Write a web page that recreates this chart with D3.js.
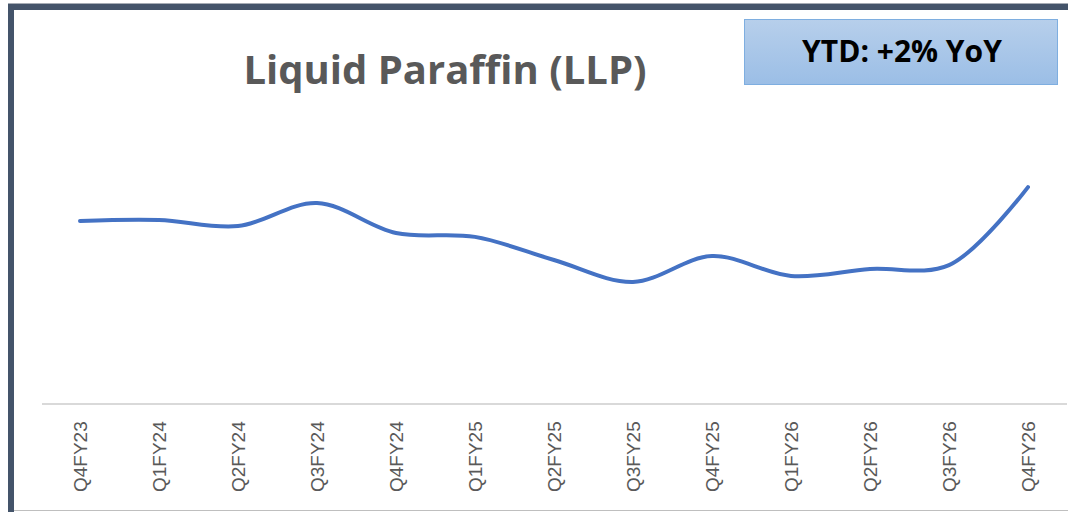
<!DOCTYPE html>
<html>
<head>
<meta charset="utf-8">
<script src="https://cdn.jsdelivr.net/npm/d3@7"></script>
<style>
  html, body { margin: 0; padding: 0; background: #fff; }
  #chart { width: 1068px; height: 512px; }
</style>
</head>
<body>
<div id="chart"></div>
<script>
/* Liquid Paraffin (LLP) — quarterly trend, smoothed line, no y axis */
(function () {
  "use strict";

  var quarters = ["Q4FY23", "Q1FY24", "Q2FY24", "Q3FY24", "Q4FY24", "Q1FY25", "Q2FY25",
    "Q3FY25", "Q4FY25", "Q1FY26", "Q2FY26", "Q3FY26", "Q4FY26"];
  // index values (y axis is hidden)
  var llpValues = [61, 61.3, 59.3, 67, 57, 55.7, 48, 40.7, 49.3, 42.7, 45, 46.3, 72.3];
  var yDomain = [0, 100];

  var W = 1068, H = 512;
  var svg = d3.select("#chart").append("svg").attr("width", W).attr("height", H);

  var defs = svg.append("defs");
  var grad = defs.append("linearGradient").attr("id", "boxGrad")
    .attr("x1", 0).attr("y1", 0).attr("x2", 0).attr("y2", 1);
  grad.append("stop").attr("offset", "0%").attr("stop-color", "#b7cfeb");
  grad.append("stop").attr("offset", "100%").attr("stop-color", "#9bbee6");

  // frame: dark top and left bars, light bottom rule
  svg.append("rect").attr("x", 8).attr("y", 3).attr("width", W - 8).attr("height", 1).attr("fill", "#a6acb5");
  svg.append("rect").attr("x", 8).attr("y", 4).attr("width", W - 8).attr("height", 6).attr("fill", "#44546a");
  svg.append("rect").attr("x", 8).attr("y", 4).attr("width", 6).attr("height", H - 4).attr("fill", "#44546a");
  svg.append("line").attr("x1", 14).attr("x2", W).attr("y1", 510.5).attr("y2", 510.5)
    .attr("stroke", "#bfbfbf").attr("stroke-width", 1);

  var x = d3.scalePoint().domain(quarters).range([80, 1028]);
  var y = d3.scaleLinear().domain(yDomain).range([404, 104]);

  // x axis: plain rule + rotated labels
  var xAxis = svg.append("g").attr("transform", "translate(0,404)")
    .call(d3.axisBottom(x).tickSize(0).tickPadding(0));
  xAxis.select(".domain").remove();
  svg.append("line").attr("x1", 42).attr("x2", 1067).attr("y1", 404).attr("y2", 404)
    .attr("stroke", "#d9d9d9").attr("stroke-width", 2);
  xAxis.selectAll(".tick text")
    .attr("transform", "translate(0,88) rotate(-90)")
    .attr("x", 0).attr("y", 0).attr("dy", "0.35em")
    .attr("text-anchor", "start")
    .style("font-family", "'Liberation Sans', Arial, sans-serif")
    .style("font-size", "19px")
    .style("fill", "#595959");

  // smoothed series line
  var line = d3.line()
    .x(function (d, i) { return x(quarters[i]); })
    .y(function (d) { return y(d); })
    .curve(d3.curveCatmullRom.alpha(0.5));
  svg.append("path").datum(llpValues)
    .attr("fill", "none").attr("stroke", "#4472c4").attr("stroke-width", 4)
    .attr("stroke-linecap", "round").attr("stroke-linejoin", "round")
    .attr("d", line);

  // title
  svg.append("text").attr("x", 445).attr("y", 84)
    .attr("text-anchor", "middle")
    .style("font-family", "'Open Sans', sans-serif")
    .style("font-weight", "700")
    .style("font-size", "40px")
    .style("fill", "#595959")
    .text("Liquid Paraffin (LLP)");

  // YTD callout box
  svg.append("rect").attr("x", 744.5).attr("y", 19.5).attr("width", 313).attr("height", 65)
    .attr("fill", "url(#boxGrad)").attr("stroke", "#7eaee0").attr("stroke-width", 1);
  svg.append("text").attr("x", 902).attr("y", 51).attr("dy", "0.35em")
    .attr("text-anchor", "middle")
    .style("font-family", "'Open Sans', sans-serif")
    .style("font-weight", "700")
    .style("font-size", "30px")
    .style("fill", "#000")
    .text("YTD: +2% YoY");
})();
</script>
</body>
</html>
